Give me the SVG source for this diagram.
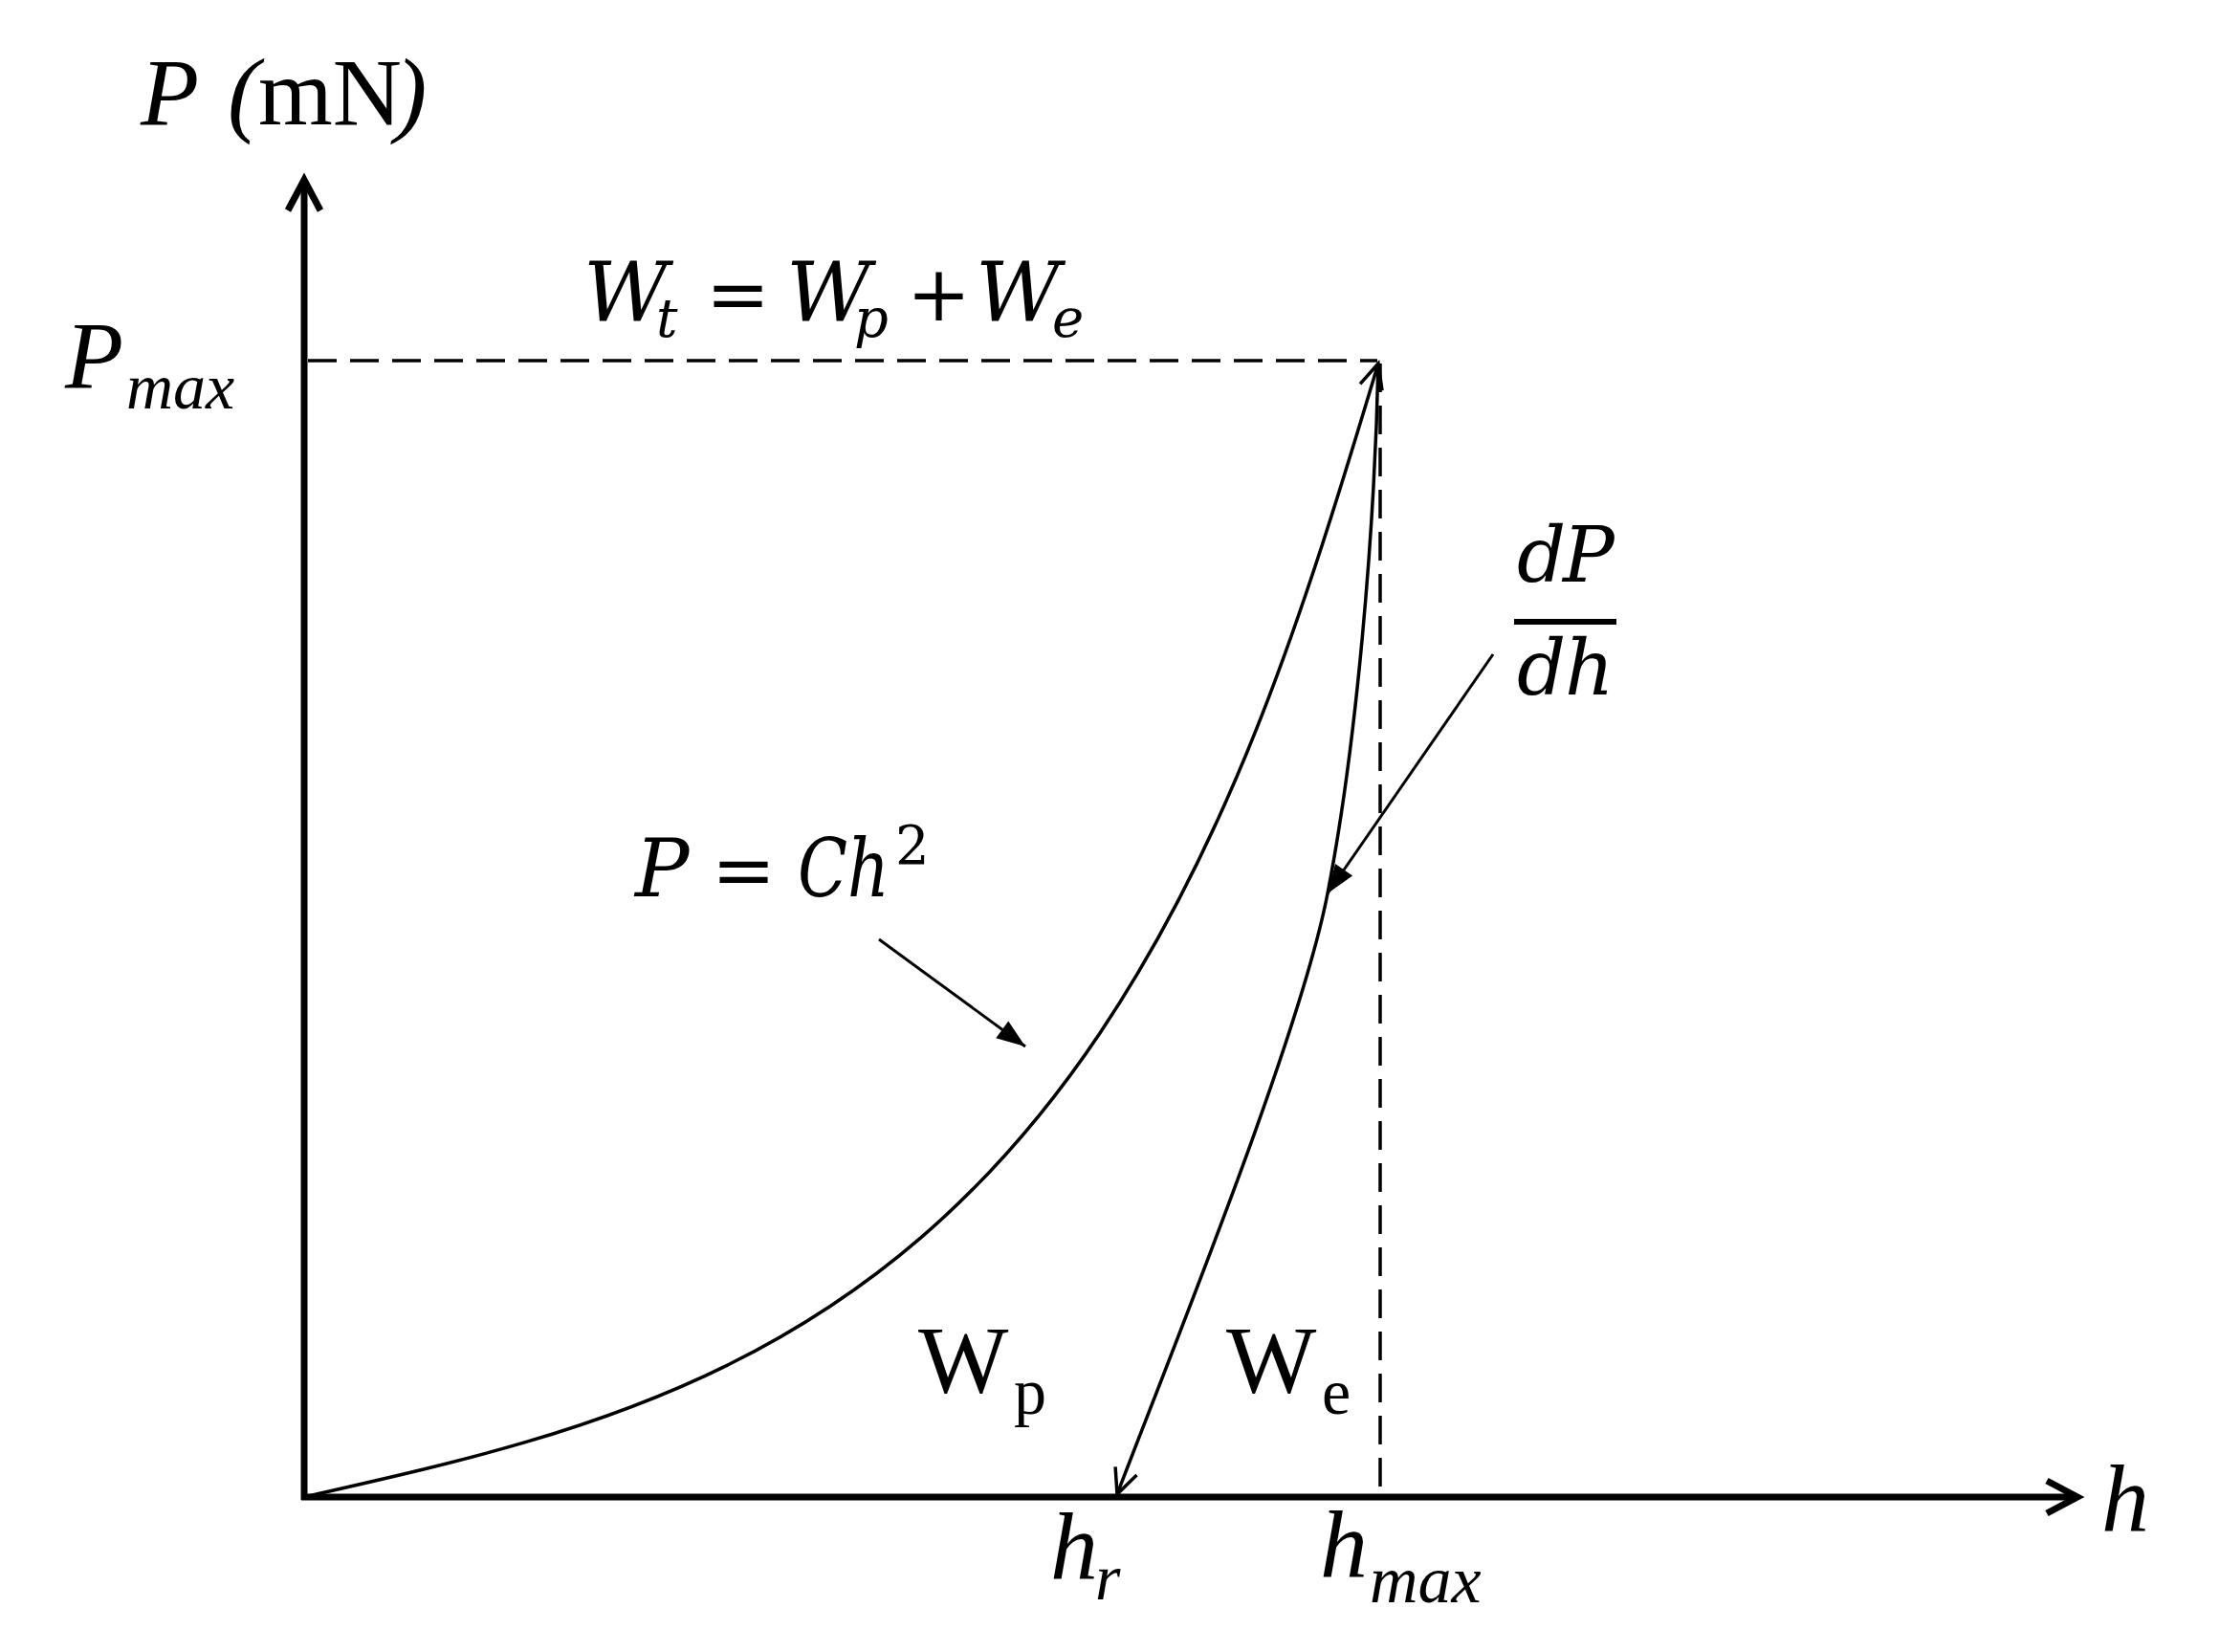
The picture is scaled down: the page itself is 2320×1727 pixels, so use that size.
<svg xmlns="http://www.w3.org/2000/svg" width="2320" height="1727" viewBox="0 0 2320 1727">
<style>
.tr{font-family:"Liberation Serif","Times New Roman",serif;fill:#000}
.it{font-style:italic}
.m{font-family:"DejaVu Serif","Liberation Serif",serif;font-style:italic;fill:#000}
.up{font-style:normal}
.axis{stroke:#000;stroke-width:7;fill:none}
.dash{stroke:#000;stroke-width:3.5;fill:none;stroke-dasharray:30 14}
.curve{stroke:#000;stroke-width:3.5;fill:none}
.thin{stroke:#000;stroke-width:3;fill:none}
</style>
<defs>
<marker id="axisHead" markerUnits="userSpaceOnUse" markerWidth="60" markerHeight="60" refX="40" refY="30" orient="auto" overflow="visible">
<path d="M8,13 L40,30 L8,47" fill="none" stroke="#000" stroke-width="7"/>
</marker>
<marker id="openHead" markerUnits="userSpaceOnUse" markerWidth="40" markerHeight="40" refX="30" refY="20" orient="auto" overflow="visible">
<path d="M4,8 L30,20 L4,32" fill="none" stroke="#000" stroke-width="3.5"/>
</marker>
<marker id="fillHead" markerUnits="userSpaceOnUse" markerWidth="40" markerHeight="40" refX="30" refY="20" orient="auto" overflow="visible">
<path d="M0,9 L30,20 L0,31 Z" fill="#000"/>
</marker>
</defs>

<g id="connectors">
<line id="y-axis" class="axis" x1="318" y1="1568" x2="318" y2="188" marker-end="url(#axisHead)"/>
<line id="x-axis" class="axis" x1="315" y1="1565" x2="2172" y2="1565" marker-end="url(#axisHead)"/>
<line id="pmax-dash" class="dash" x1="322" y1="377" x2="1440" y2="377"/>
<line id="hmax-dash" class="dash" x1="1443" y1="380" x2="1443" y2="1562"/>
<path id="loading" class="curve" d="M318,1565 C598,1501 910,1438 1150,1080 C1290,871 1363,640 1441,380" marker-end="url(#openHead)"/>
<path id="unloading" class="curve" d="M1441,380 C1437,560 1418,780 1388,934 C1360,1080 1230,1400 1168,1562" marker-end="url(#openHead)"/>
<line id="slope-arrow" class="thin" x1="1561" y1="684" x2="1388" y2="934" marker-end="url(#fillHead)"/>
<line id="ch2-arrow" class="thin" x1="919" y1="982" x2="1072" y2="1094" marker-end="url(#fillHead)"/>
</g>

<g id="label-P-axis">
<text class="tr it" x="147" y="130" font-size="100">P</text>
<text class="tr it" x="238" y="130" font-size="100">(</text>
<text class="tr" x="270" y="130" font-size="100">mN</text>
<text class="tr it" x="413" y="130" font-size="100">)</text>
</g>

<g id="label-Pmax">
<text class="tr it" x="68" y="405" font-size="100">P</text>
<text class="tr it" x="132" y="427" font-size="68">max</text>
</g>

<g id="label-Wt">
<text class="m" x="610" y="335" font-size="86">W</text>
<text class="m" x="686" y="352" font-size="56">t</text>
<text class="m up" x="738" y="335" font-size="80">=</text>
<text class="m" x="822" y="335" font-size="86">W</text>
<text class="m" x="893" y="352" font-size="56">p</text>
<text class="m up" x="948" y="335" font-size="80">+</text>
<text class="m" x="1020" y="335" font-size="86">W</text>
<text class="m" x="1100" y="352" font-size="56">e</text>
</g>

<g id="label-dPdh">
<text class="m" x="1586" y="608" font-size="80">d</text>
<text class="m" x="1634" y="608" font-size="80">P</text>
<rect x="1583" y="647" width="107" height="6" fill="#000"/>
<text class="m" x="1586" y="726" font-size="80">d</text>
<text class="m" x="1636" y="726" font-size="80">h</text>
</g>

<g id="label-Ch2">
<text class="m" x="664" y="937" font-size="84">P</text>
<text class="m up" x="744" y="937" font-size="80">=</text>
<text class="m" x="834" y="937" font-size="84" textLength="96" lengthAdjust="spacingAndGlyphs">Ch</text>
<text class="m up" x="936" y="903" font-size="56">2</text>
</g>

<g id="label-Wp">
<text class="tr" x="960" y="1455" font-size="100">W</text>
<text class="tr" x="1060" y="1478" font-size="68">p</text>
</g>

<g id="label-We">
<text class="tr" x="1282" y="1455" font-size="100">W</text>
<text class="tr" x="1382" y="1478" font-size="68">e</text>
</g>

<g id="label-hr">
<text class="tr it" x="1098" y="1650" font-size="100">h</text>
<text class="tr it" x="1145" y="1672" font-size="68">r</text>
</g>

<g id="label-hmax">
<text class="tr it" x="1380" y="1648" font-size="100">h</text>
<text class="tr it" x="1432" y="1675" font-size="70">max</text>
</g>

<g id="label-h">
<text class="tr it" x="2197" y="1600" font-size="100">h</text>
</g>
</svg>
